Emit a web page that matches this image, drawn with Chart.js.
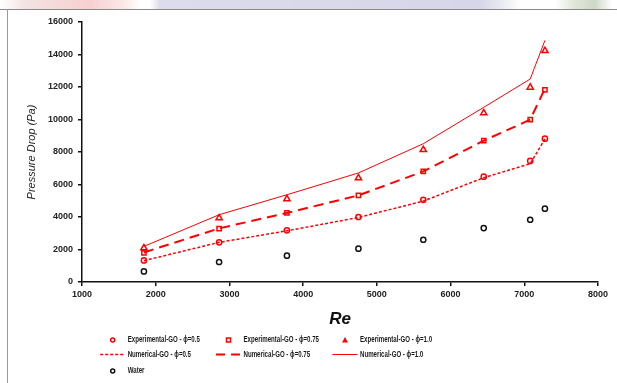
<!DOCTYPE html>
<html lang="en">
<head>
    <meta charset="UTF-8">
    <title>Pressure Drop vs Re</title>
    <script src="https://cdn.jsdelivr.net/npm/chart.js"></script>
    <style>
        html, body {
            margin: 0;
            padding: 0;
            background: #fff;
        }
        .frame {
            position: relative;
            width: 617px;
            height: 383px;
            overflow: hidden;
            background: #fff;
        }
        .strip {
            position: absolute;
            left: 0; top: 0;
            width: 617px; height: 9px;
            background: linear-gradient(90deg, #fff 0px, #f3e3e3 25px, #f7d0d0 90px, #fbe9e9 125px, #fff 140px, #fff 150px, #dcdcec 160px, #d6d6e8 480px, #e8e8f0 500px, #fff 520px, #fff 555px, #dfe6d8 575px, #cfd9c8 595px, #fff 612px);
            border-bottom: 1px solid #8a8a8a;
        }
        .left-line {
            position: absolute;
            left: 7px; top: 9px;
            width: 1px; height: 374px;
            background: #9a9a9a;
        }
        canvas {
            position: absolute;
            left: 0; top: 0;
        }
    </style>
</head>
<body>
    <div class="frame">
        <div class="strip"></div>
        <div class="left-line"></div>
        <canvas id="chart" width="617" height="383"></canvas>
    </div>
    <script>
        // Reynolds numbers of the test points
        const reValues = [1840, 2860, 3780, 4750, 5630, 6450, 7080, 7280];

        // experimental pressure drop (Pa)
        const expGO05 = [1330, 2440, 3180, 4000, 5060, 6480, 7450, 8820];
        const expGO075 = [1790, 3280, 4250, 5330, 6810, 8700, 9990, 11830];
        const expGO10 = [2090, 3940, 5110, 6400, 8140, 10400, 11980, 14230];

        // numerical pressure drop (Pa)
        const numGO05 = [1310, 2440, 3150, 3970, 4980, 6420, 7280, 8800];
        const numGO075 = [1820, 3300, 4250, 5330, 6806, 8696, 9990, 11900];
        const numGO10 = [2190, 4140, 5370, 6710, 8510, 10750, 12490, 14870];

        const water = [650, 1230, 1620, 2050, 2600, 3320, 3830, 4510];

        const xTicks = [1000, 2000, 3000, 4000, 5000, 6000, 7000, 8000];
        const yTicks = [0, 2000, 4000, 6000, 8000, 10000, 12000, 14000, 16000];

        const RED = '#ff0000';
        const FONT = "'Liberation Sans', Arial, sans-serif";

        function pts(ys) {
            return reValues.map((x, i) => ({ x: x, y: ys[i] }));
        }

        function expSet(label, ys, style, r, color) {
            return {
                label: label,
                data: pts(ys),
                showLine: false,
                pointStyle: style,
                pointRadius: r,
                pointBorderWidth: 1.5,
                pointBorderColor: color || RED,
                pointBackgroundColor: '#fff',
                borderColor: color || RED
            };
        }

        function numSet(label, ys, dash, width) {
            return {
                label: label,
                data: pts(ys),
                showLine: true,
                pointRadius: 0,
                borderColor: RED,
                borderWidth: width,
                borderDash: dash,
                fill: false,
                tension: 0
            };
        }

        const datasets = [
            numSet('Numerical-GO - ϕ=0.5', numGO05, [3, 2], 1.5),
            numSet('Numerical-GO - ϕ=0.75', numGO075, [10, 6], 2),
            numSet('Numerical-GO - ϕ=1.0', numGO10, [], 1),
            expSet('Experimental-GO - ϕ=0.5', expGO05, 'circle', 2.6),
            expSet('Experimental-GO - ϕ=0.75', expGO075, 'rect', 3),
            expSet('Experimental-GO - ϕ=1.0', expGO10, 'triangle', 3.6),
            expSet('Water', water, 'circle', 2.6, '#111')
        ];

        // legend drawn by hand: 3 columns x 3 rows below the axis title
        const legendItems = [
            { col: 0, row: 0, kind: 'circle', text: 'Experimental-GO - ϕ=0.5' },
            { col: 1, row: 0, kind: 'rect', text: 'Experimental-GO - ϕ=0.75' },
            { col: 2, row: 0, kind: 'triangle', text: 'Experimental-GO - ϕ=1.0' },
            { col: 0, row: 1, kind: 'line', dash: [3, 2], width: 1.5, text: 'Numerical-GO - ϕ=0.5' },
            { col: 1, row: 1, kind: 'line', dash: [9, 6], width: 2, text: 'Numerical-GO - ϕ=0.75' },
            { col: 2, row: 1, kind: 'line', dash: [], width: 1, text: 'Numerical-GO - ϕ=1.0' },
            { col: 0, row: 2, kind: 'water', text: 'Water' }
        ];
        const legendCols = [112.7, 228.5, 345];
        const legendRows = [340, 354.5, 371];

        const legendPlugin = {
            id: 'customLegend',
            afterDraw(chart) {
                const ctx = chart.ctx;
                ctx.save();
                legendItems.forEach(it => {
                    const mx = legendCols[it.col];
                    const my = legendRows[it.row];
                    ctx.setLineDash([]);
                    ctx.lineWidth = 1.5;
                    ctx.strokeStyle = RED;
                    ctx.fillStyle = '#fff';
                    if (it.kind === 'circle' || it.kind === 'water') {
                        ctx.strokeStyle = it.kind === 'water' ? '#111' : RED;
                        ctx.beginPath();
                        ctx.arc(mx, my, 2, 0, Math.PI * 2);
                        ctx.fill();
                        ctx.stroke();
                    } else if (it.kind === 'rect') {
                        ctx.fillRect(mx - 2, my - 2, 4, 4);
                        ctx.strokeRect(mx - 2, my - 2, 4, 4);
                    } else if (it.kind === 'triangle') {
                        ctx.fillStyle = RED;
                        ctx.beginPath();
                        ctx.moveTo(mx, my - 3);
                        ctx.lineTo(mx + 3, my + 2.5);
                        ctx.lineTo(mx - 3, my + 2.5);
                        ctx.closePath();
                        ctx.fill();
                    } else if (it.kind === 'line') {
                        ctx.lineWidth = it.width;
                        ctx.setLineDash(it.dash);
                        ctx.beginPath();
                        ctx.moveTo(mx - 12.5, my);
                        ctx.lineTo(mx + 12.5, my);
                        ctx.stroke();
                    }
                    ctx.setLineDash([]);
                    ctx.fillStyle = '#1a1a1a';
                    ctx.font = 'bold 8.5px ' + FONT;
                    ctx.textBaseline = 'middle';
                    ctx.textAlign = 'left';
                    // source font is a narrow one, squeeze to its width
                    const w = ctx.measureText(it.text).width * 0.72;
                    ctx.fillText(it.text, mx + 15, my, w);
                });
                ctx.restore();
            }
        };

        const plainNum = v => String(v);

        const config = {
            type: 'scatter',
            data: { datasets: datasets },
            options: {
                responsive: false,
                animation: false,
                devicePixelRatio: 1,
                layout: { padding: { top: 22, right: 19, left: 0, bottom: 51 } },
                plugins: {
                    legend: { display: false },
                    tooltip: { enabled: false }
                },
                scales: {
                    x: {
                        type: 'linear',
                        min: 1000,
                        max: 8000,
                        afterBuildTicks: s => { s.ticks = xTicks.map(v => ({ value: v })); },
                        afterFit: s => { s.height = 50; },
                        border: { color: '#111', width: 1.5 },
                        grid: { drawOnChartArea: false, color: '#111', tickLength: 4, lineWidth: 1.5 },
                        ticks: {
                            font: { family: FONT, size: 9, weight: 'bold' },
                            color: '#222',
                            padding: 3,
                            maxRotation: 0,
                            callback: plainNum
                        },
                        title: {
                            display: true,
                            text: 'Re',
                            font: { family: FONT, size: 17, weight: 'bold', style: 'italic' },
                            color: '#111',
                            padding: { top: 0, bottom: 2 }
                        }
                    },
                    y: {
                        type: 'linear',
                        min: 0,
                        max: 16000,
                        afterBuildTicks: s => { s.ticks = yTicks.map(v => ({ value: v })); },
                        afterFit: s => { s.width = 82; },
                        border: { color: '#111', width: 1.5 },
                        grid: { drawOnChartArea: false, color: '#111', tickLength: 4, lineWidth: 1.5 },
                        ticks: {
                            font: { family: FONT, size: 9, weight: 'bold' },
                            color: '#222',
                            padding: 5,
                            callback: plainNum
                        },
                        title: {
                            display: true,
                            text: 'Pressure Drop (Pa)',
                            font: { family: FONT, size: 11, style: 'italic' },
                            color: '#222',
                            padding: { top: 25, bottom: 0 }
                        }
                    }
                }
            },
            plugins: [legendPlugin]
        };

        new Chart(document.getElementById('chart'), config);
    </script>
</body>
</html>
